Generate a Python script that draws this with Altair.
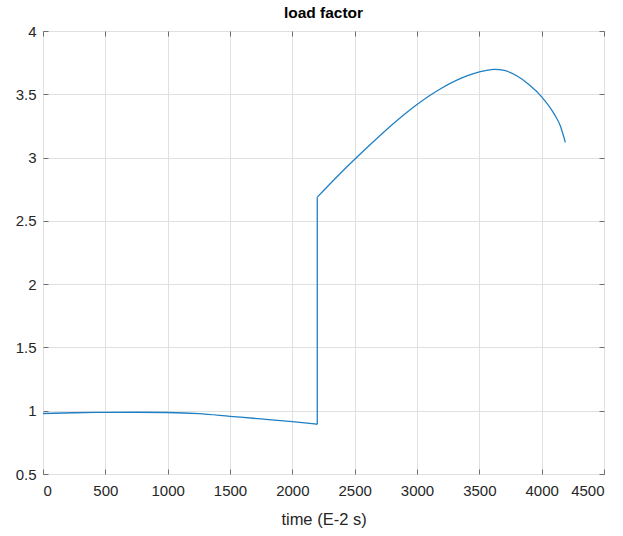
import altair as alt
import pandas as pd

# time (E-2 s) and load factor, before and after the jump
seg1_t = [0, 250, 500, 750, 1000, 1250, 1500, 1750, 2000, 2200]
seg1_lf = [0.978, 0.984, 0.987, 0.988, 0.986, 0.977, 0.956, 0.935, 0.913, 0.893]
seg2_t = [2200, 2400, 2600, 2800, 3000, 3200, 3400, 3500, 3620, 3700,
          3800, 3900, 4000, 4100, 4150, 4190]
seg2_lf = [2.687, 2.89, 3.08, 3.26, 3.42, 3.55, 3.645, 3.677, 3.697, 3.688,
           3.646, 3.575, 3.48, 3.345, 3.25, 3.12]

x_ticks = [0, 500, 1000, 1500, 2000, 2500, 3000, 3500, 4000, 4500]
y_ticks = [0.5, 1, 1.5, 2, 2.5, 3, 3.5, 4]

df = pd.DataFrame({
    "t": seg1_t + seg2_t,
    "lf": seg1_lf + seg2_lf,
    "seg": ["a"] * len(seg1_t) + ["b"] * len(seg2_t),
})
jump = pd.DataFrame({"t": [seg1_t[-1]], "lf": [seg1_lf[-1]], "lf2": [seg2_lf[0]]})

FONT = "Liberation Sans"
FRAME = "#6e6e6e"
LINE = "#1f7fc4"

xs = alt.Scale(domain=[0, 4500], nice=False, zero=False)
ys = alt.Scale(domain=[0.5, 4], nice=False, zero=False)

main = alt.Chart(df).mark_line(color=LINE, strokeWidth=1.3, interpolate="monotone").encode(
    x=alt.X("t:Q", scale=xs, axis=alt.Axis(
        values=x_ticks, format="d", title="time (E-2 s)", orient="bottom",
        grid=True, gridColor="#e0e0e0", domain=False, ticks=False,
        labelFont=FONT, labelFontSize=15, labelColor="#262626", labelPadding=9,
        titleFont=FONT, titleFontSize=16.5, titleFontWeight="normal", titleColor="#262626",
        titlePadding=13)),
    y=alt.Y("lf:Q", scale=ys, axis=alt.Axis(
        values=y_ticks, format="~g", title=None, orient="left",
        grid=True, gridColor="#e0e0e0", domain=False, ticks=False,
        labelFont=FONT, labelFontSize=15, labelColor="#262626", labelPadding=7)),
    detail="seg:N",
)

jump_rule = alt.Chart(jump).mark_rule(color=LINE, strokeWidth=1.3).encode(
    x=alt.X("t:Q", scale=xs, axis=None),
    y=alt.Y("lf:Q", scale=ys, axis=None),
    y2="lf2:Q",
)

def tick_layer(xorient, yorient):
    return alt.Chart(df).mark_line(opacity=0).encode(
        x=alt.X("t:Q", scale=xs, axis=alt.Axis(
            values=x_ticks, orient=xorient, offset=-5, tickSize=5, tickColor=FRAME,
            tickWidth=1, labels=False, domain=False, grid=False, title=None)),
        y=alt.Y("lf:Q", scale=ys, axis=alt.Axis(
            values=y_ticks, orient=yorient, offset=-5, tickSize=5, tickColor=FRAME,
            tickWidth=1, labels=False, domain=False, grid=False, title=None)),
        detail="seg:N",
    )

chart = alt.layer(
    main, jump_rule, tick_layer("bottom", "left"), tick_layer("top", "right")
).resolve_axis(x="independent", y="independent").resolve_scale(
    x="shared", y="shared"
).properties(
    width=561, height=443,
    title=alt.TitleParams("load factor", font=FONT, fontSize=15.5, fontWeight="bold",
                          color="#000000", offset=3),
    autosize=alt.AutoSizeParams(type="none"),
    padding={"left": 43, "top": 31, "right": 19, "bottom": 62},
).configure_view(stroke=FRAME, strokeWidth=1.5).configure(background="white")

chart.save("out.html", embed_options={"renderer": "svg", "actions": False})
